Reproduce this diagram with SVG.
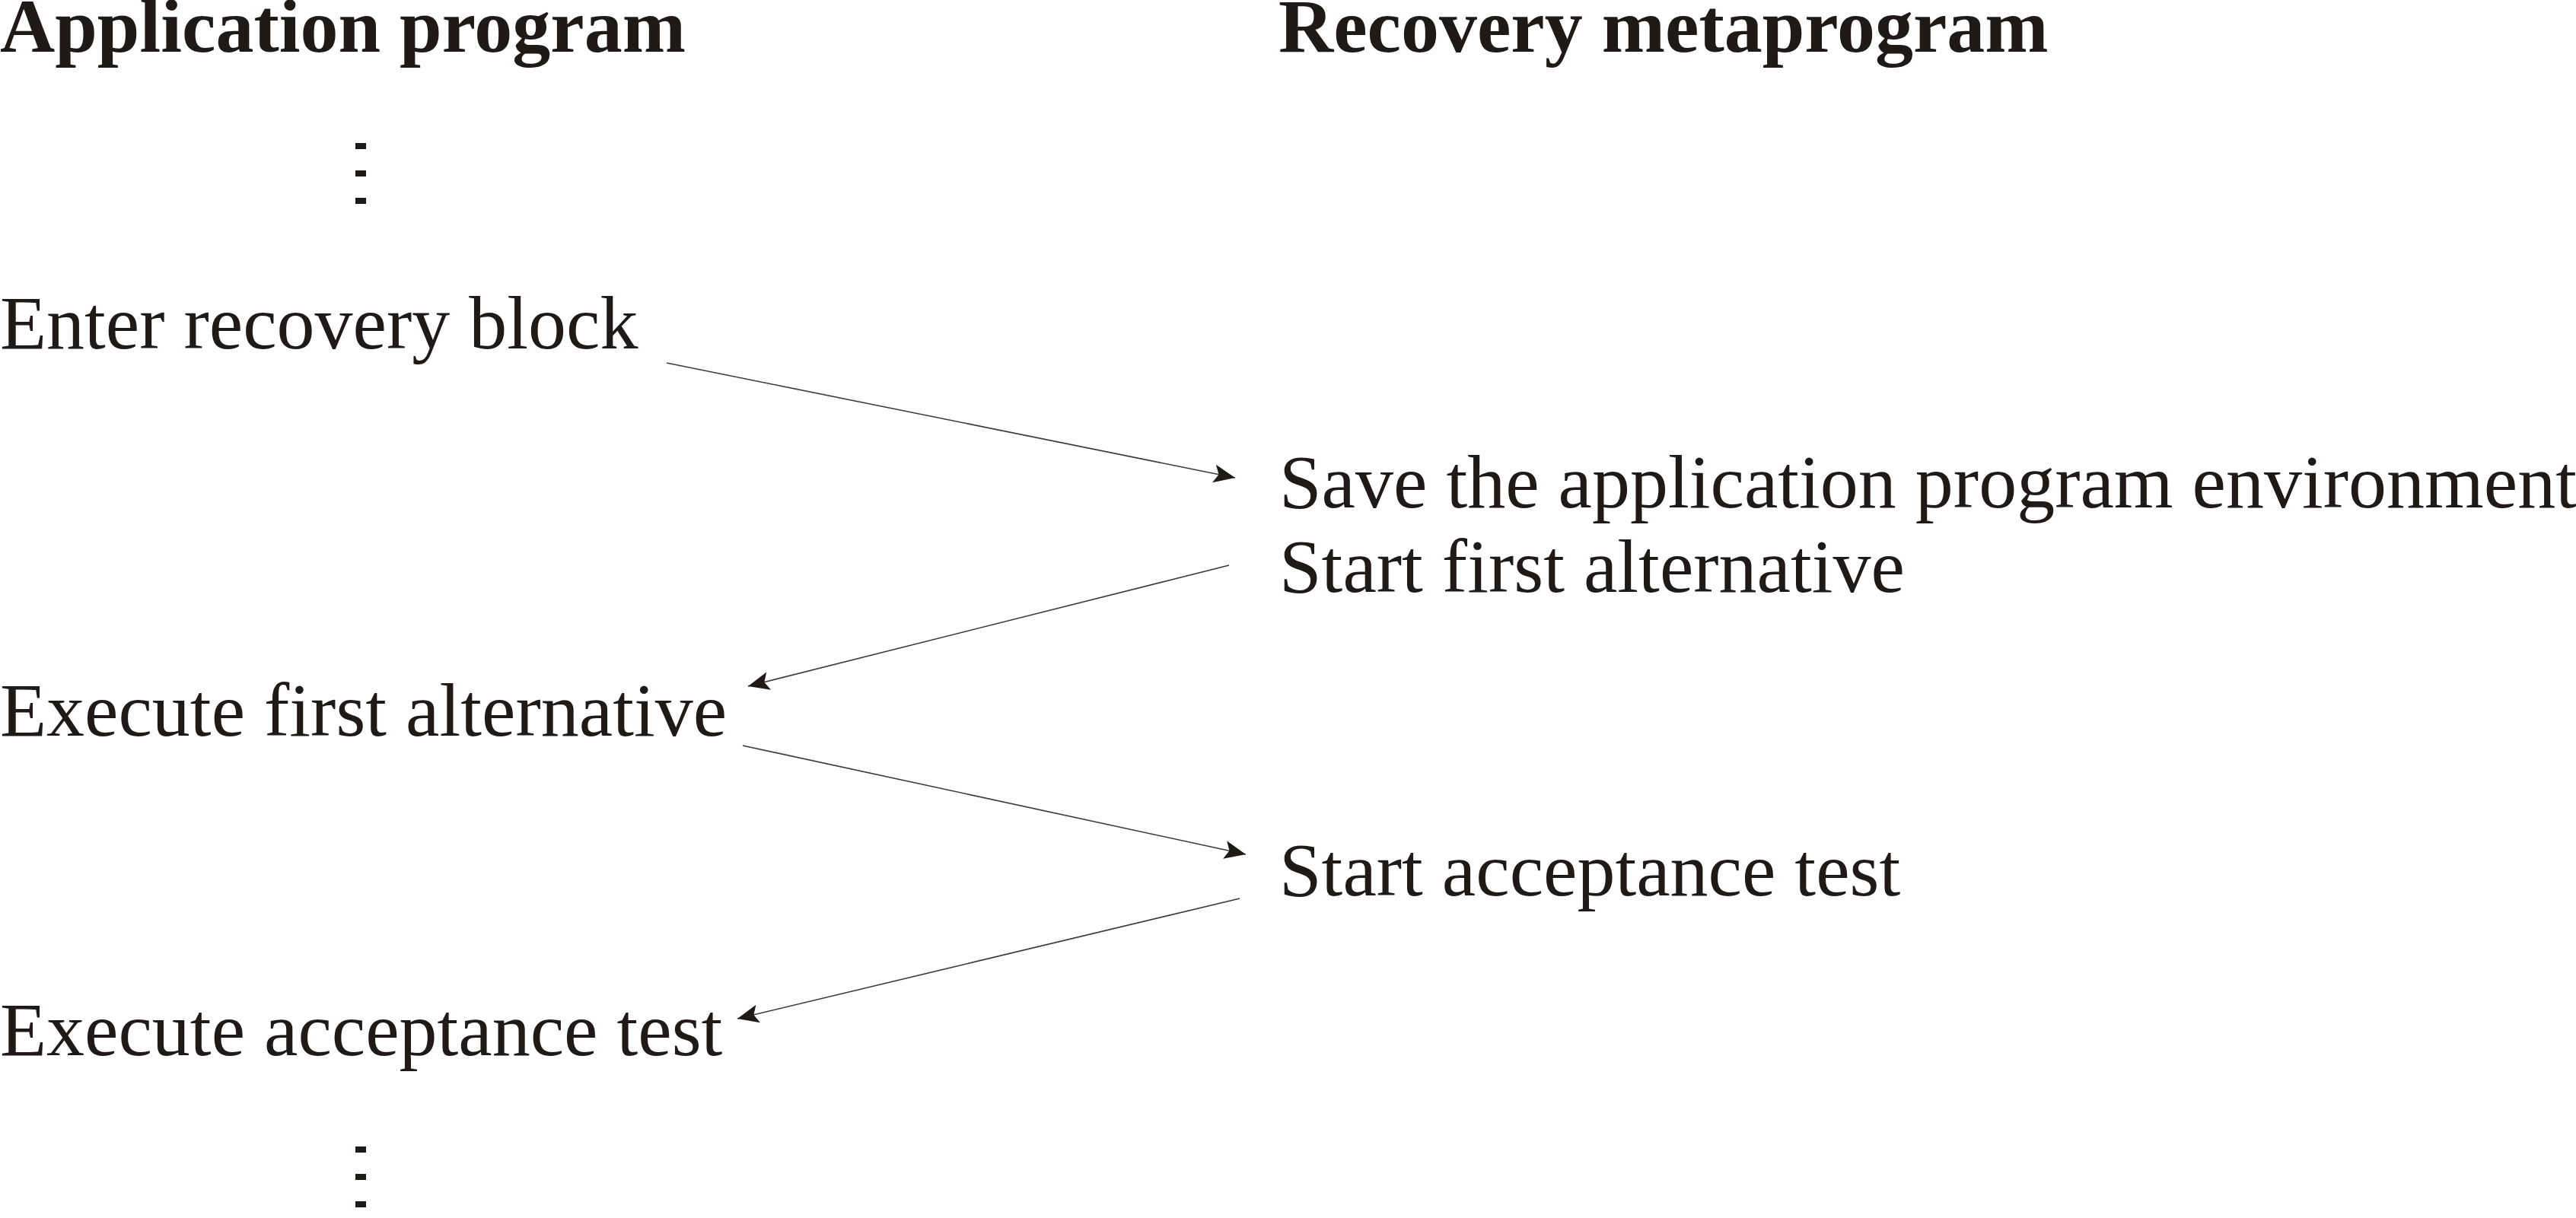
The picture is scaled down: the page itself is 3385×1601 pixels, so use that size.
<svg xmlns="http://www.w3.org/2000/svg" width="3385" height="1601" viewBox="0 0 3385 1601">
<style>
  text { font-family: "Liberation Serif", "Times New Roman", serif; fill: #1f1a17; }
  .head { font-size: 100px; font-weight: bold; }
  .body { font-size: 100px; }
  .dot { fill: #1f1a17; }
  .conn { stroke: #3a3a3a; stroke-width: 1.6; fill: none; marker-end: url(#ah); }
</style>
<defs>
  <marker id="ah" markerUnits="userSpaceOnUse" orient="auto" refX="0" refY="0" viewBox="-30 -15 32 30" markerWidth="32" markerHeight="30">
    <path d="M0,0 L-28,-12 L-22,0 L-28,12 Z" fill="#1f1a17"/>
  </marker>
</defs>
<rect width="3385" height="1601" fill="#ffffff"/>
<g id="title-app"><text class="head" x="0" y="68">Application program</text></g>
<g id="title-meta"><text class="head" x="1680" y="68">Recovery metaprogram</text></g>
<g id="dots-top">
  <rect class="dot" x="467" y="188" width="14" height="8"/>
  <rect class="dot" x="467" y="224" width="14" height="8"/>
  <rect class="dot" x="467" y="260" width="14" height="8"/>
</g>
<g id="enter"><text class="body" x="0" y="458">Enter recovery block</text></g>
<g id="save">
  <text class="body" x="1681" y="667">Save the application program environment</text>
  <text class="body" x="1681" y="778">Start first alternative</text>
</g>
<g id="exec-first"><text class="body" x="0" y="967">Execute first alternative</text></g>
<g id="start-accept"><text class="body" x="1681" y="1177">Start acceptance test</text></g>
<g id="exec-accept"><text class="body" x="0" y="1387">Execute acceptance test</text></g>
<g id="dots-bottom">
  <rect class="dot" x="467" y="1507" width="14" height="8"/>
  <rect class="dot" x="467" y="1543" width="14" height="8"/>
  <rect class="dot" x="467" y="1579" width="14" height="8"/>
</g>
<g id="connectors">
  <line class="conn" x1="876" y1="477" x2="1623" y2="628"/>
  <line class="conn" x1="1615" y1="743" x2="983" y2="902"/>
  <line class="conn" x1="976" y1="980" x2="1637" y2="1123"/>
  <line class="conn" x1="1629" y1="1181" x2="969" y2="1339"/>
</g>
</svg>
